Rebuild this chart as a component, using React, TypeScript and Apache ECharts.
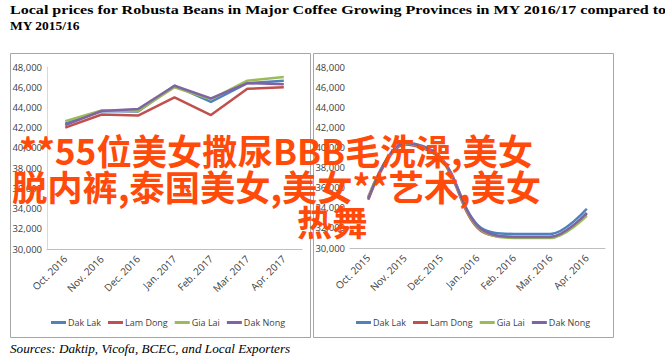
import React, { useEffect, useRef } from "react";
import * as echarts from "echarts";

const categories1 = ["Oct. 2016", "Nov. 2016", "Dec. 2016", "Jan. 2017", "Feb. 2017", "Mar. 2017", "Apr. 2017"];
const categories2 = ["Oct. 2015", "Nov. 2015", "Dec. 2015", "Jan. 2016", "Feb. 2016", "Mar. 2016", "Apr. 2016"];

const dakLak1 = [42400, 43650, 43600, 46150, 44550, 46400, 46650];
const lamDong1 = [42000, 43300, 43200, 45000, 43250, 45850, 46000];
const giaLai1 = [42650, 43700, 43650, 46000, 44800, 46650, 47000];
const dakNong1 = [42250, 43650, 43850, 46150, 44900, 46400, 46300];

const dakLak2 = [35000, 40500, 39000, 32300, 31400, 31400, 33900];
const lamDong2 = [34800, 40300, 38800, 32000, 31100, 31100, 33400];
const giaLai2 = [35100, 40400, 38900, 32100, 31000, 31000, 33200];
const dakNong2 = [34900, 40450, 38950, 32200, 31100, 31100, 33500];

const seriesNames = ["Dak Lak", "Lam Dong", "Gia Lai", "Dak Nong"];
const seriesColors = ["#4F81BD", "#C0504D", "#9BBB59", "#8064A2"];

const titleLines = [
  "Local prices for Robusta Beans in Major Coffee Growing Provinces in MY 2016/17 compared to",
  "MY 2015/16",
];
const sourceText = "Sources: Daktip, Vicofa, BCEC, and Local Exporters";
const overlayLines = ["**55位美女撒尿BBB毛洗澡,美女", "脱内裤,泰国美女,美女**艺术,美女", "热舞"];

const yMin = 30000;
const yMax = 48000;
const yInterval = 2000;

const axisFont = "'Liberation Sans Narrow', 'Open Sans', sans-serif";
const overlayFont = "bold 35.3px 'Noto Sans CJK SC', sans-serif";

export default function App() {
  const ref = useRef<HTMLDivElement>(null);
  useEffect(() => {
    if (!ref.current) return;
    const chart = echarts.init(ref.current, undefined, { renderer: "svg" });
    const fmt = (v: number) => v.toLocaleString("en-US");
    const xAxisBase = {
      type: "category" as const,
      boundaryGap: true,
      axisLine: { show: true, lineStyle: { color: "#bfbfbf", width: 1 } },
      axisTick: { show: false },
      axisLabel: { rotate: 45, fontSize: 10, color: "#404040", fontFamily: axisFont, margin: 8 },
    };
    const yAxisBase = {
      type: "value" as const,
      min: yMin,
      max: yMax,
      interval: yInterval,
      splitLine: { show: false },
      axisTick: { show: false },
      axisLabel: { fontSize: 9.5, color: "#404040", fontFamily: axisFont, formatter: fmt, margin: 5 },
    };
    const data1 = [dakLak1, lamDong1, giaLai1, dakNong1];
    const data2 = [dakLak2, lamDong2, giaLai2, dakNong2];
    const series: any[] = [];
    seriesNames.forEach((n, i) => {
      series.push({
        name: n, type: "line", xAxisIndex: 0, yAxisIndex: 0, data: data1[i],
        showSymbol: false, symbol: "none", lineStyle: { width: 2.5, color: seriesColors[i] },
        itemStyle: { color: seriesColors[i] },
      });
    });
    seriesNames.forEach((n, i) => {
      series.push({
        name: n, type: "line", xAxisIndex: 1, yAxisIndex: 1, data: data2[i], smooth: 0.35,
        showSymbol: false, symbol: "none", lineStyle: { width: 2.5, color: seriesColors[i] },
        itemStyle: { color: seriesColors[i] },
      });
    });
    const legendBase = {
      data: seriesNames,
      icon: "rect",
      itemWidth: 15,
      itemHeight: 3,
      itemGap: 7,
      top: 313,
      textStyle: { fontSize: 9, color: "#404040", fontFamily: axisFont, padding: [0, 0, 0, -3] },
      selectedMode: false,
    };
    chart.setOption({
      animation: false,
      backgroundColor: "#ffffff",
      grid: [
        { left: 47, right: 363, top: 67, height: 182 },
        { left: 350, right: 60, top: 67, height: 181 },
      ],
      xAxis: [
        { ...xAxisBase, gridIndex: 0, data: categories1 },
        { ...xAxisBase, gridIndex: 1, data: categories2 },
      ],
      yAxis: [
        { ...yAxisBase, gridIndex: 0, axisLine: { show: true, lineStyle: { color: "#d9d9d9" } } },
        { ...yAxisBase, gridIndex: 1, axisLine: { show: false } },
      ],
      legend: [
        { ...legendBase, left: 46 },
        { ...legendBase, left: 351 },
      ],
      series,
      graphic: [
        { type: "rect", shape: { x: 10.5, y: 53.5, width: 300, height: 284 }, style: { fill: "none", stroke: "#a6a6a6", lineWidth: 1 }, z: 1 },
        { type: "rect", shape: { x: 313.5, y: 53.5, width: 300, height: 284 }, style: { fill: "none", stroke: "#a6a6a6", lineWidth: 1 }, z: 1 },
        { type: "text", x: 10, y: 2, scaleX: 1.19, style: { text: titleLines[0], font: "bold 13.5px 'Liberation Serif', serif", fill: "#000" }, z: 10 },
        { type: "text", x: 10, y: 18, style: { text: titleLines[1], font: "bold 13.5px 'Liberation Serif', serif", fill: "#000" }, z: 10 },
        { type: "text", x: 10, y: 342, style: { text: sourceText, font: "italic 13.2px 'Liberation Serif', serif", fill: "#000" }, z: 10 },
        { type: "text", x: 19, y: 149, style: { text: overlayLines[0], font: overlayFont, fill: "#ff4a0a", textVerticalAlign: "middle" }, z: 100 },
        { type: "text", x: 12, y: 185, style: { text: overlayLines[1], font: overlayFont, fill: "#ff4a0a", textVerticalAlign: "middle" }, z: 100 },
        { type: "text", x: 297, y: 220, style: { text: overlayLines[2], font: overlayFont, fill: "#ff4a0a", textVerticalAlign: "middle" }, z: 100 },
      ],
    });
    return () => chart.dispose();
  }, []);
  return <div ref={ref} style={{ position: "fixed", left: 0, top: 0, width: 665, height: 359 }} />;
}
